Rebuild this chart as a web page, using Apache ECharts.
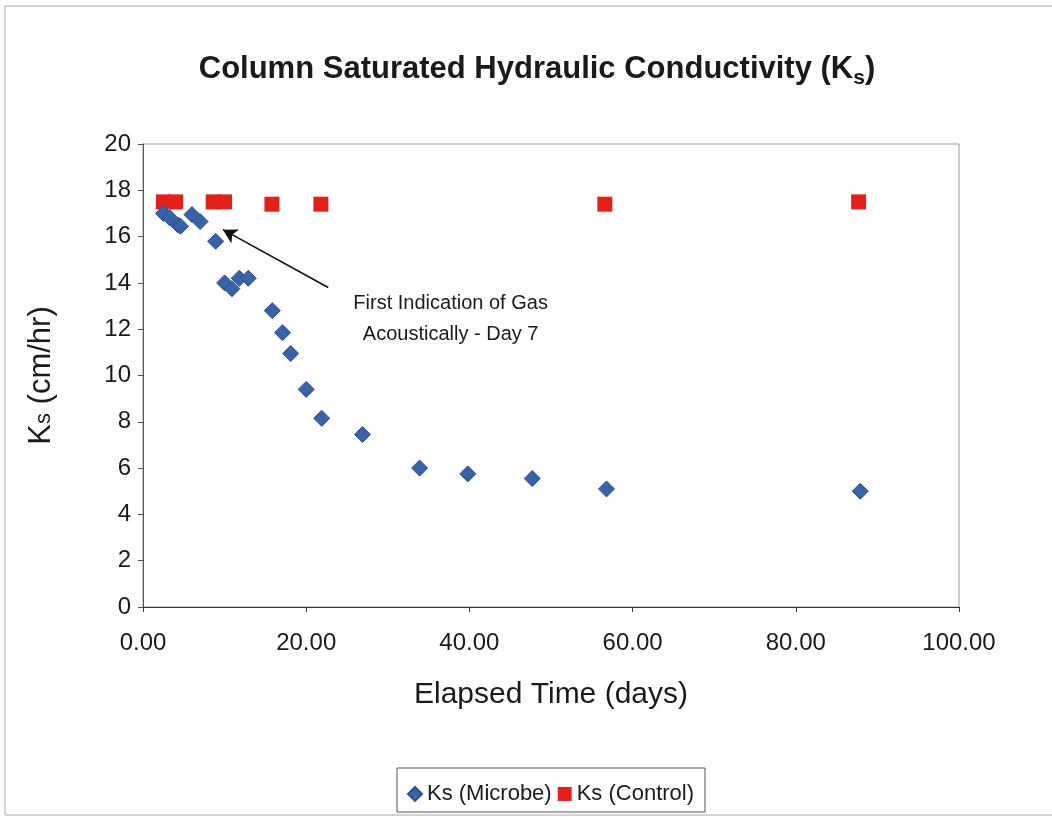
<html>
<head>
<title>Column Saturated Hydraulic Conductivity</title>
<script src="https://cdn.jsdelivr.net/npm/echarts@6/dist/echarts.min.js"></script>
<style>
body { margin:0; background:#fff; }
#main { width:1052px; height:817px; }
</style>
</head>
<body>
<div id="main"></div>
<script type="text/javascript">

// elapsed time (days) and Ks (cm/hr)
var microbeDays = [2.5, 3.3, 4.3, 4.6, 6.0, 7.0, 8.9, 10.0, 10.9, 11.8, 12.9, 15.85, 17.1, 18.1, 20.0, 21.9, 26.9, 33.9, 39.8, 47.7, 56.8, 87.9];
var microbeKs   = [17.0, 16.8, 16.5, 16.45, 16.95, 16.65, 15.8, 14.0, 13.75, 14.2, 14.2, 12.8, 11.85, 10.95, 9.4, 8.15, 7.45, 6.0, 5.75, 5.55, 5.1, 5.0];
var controlDays = [2.5, 4.0, 8.6, 10.0, 15.8, 21.8, 56.6, 87.7];
var controlKs   = [17.5, 17.5, 17.5, 17.5, 17.4, 17.4, 17.4, 17.5];

// annotation arrow, tail -> head, in data units
var arrowFrom = [22.7, 13.8];
var arrowTo = [9.8, 16.3];
var noteAt = [37.7, 13.8];

function pairs(xs, ys) {
    var out = [];
    for (var i = 0; i < xs.length; i++) out.push([xs[i], ys[i]]);
    return out;
}

var font = 'Liberation Sans, Arial, sans-serif';
var myChart = echarts.init(document.getElementById('main'));

var option = {
    animation: false,
    backgroundColor: '#fff',
    title: {
        text: 'Column Saturated Hydraulic Conductivity (K{sub|s})',
        left: 532, textAlign: 'center', top: 38,
        textStyle: {
            fontFamily: font, fontSize: 31, fontWeight: 'bold', color: '#1a1a1a',
            rich: { sub: { fontFamily: font, fontSize: 21, fontWeight: 'bold', color: '#1a1a1a', padding: [16, 0, 0, 0] } }
        }
    },
    grid: { left: 143, right: 93, top: 144, bottom: 210, show: true, borderColor: '#999', borderWidth: 1 },
    xAxis: {
        type: 'value', min: 0, max: 100, interval: 20,
        name: 'Elapsed Time (days)', nameLocation: 'middle', nameGap: 58,
        nameTextStyle: { fontFamily: font, fontSize: 30, color: '#1a1a1a' },
        axisLine: { lineStyle: { color: '#333', width: 1 } },
        axisTick: { show: true, length: 5, lineStyle: { color: '#333' } },
        axisLabel: { fontFamily: font, fontSize: 24, color: '#1a1a1a', margin: 16,
            formatter: function (v) { return v.toFixed(2); } },
        splitLine: { show: false }
    },
    yAxis: {
        type: 'value', min: 0, max: 20, interval: 2,
        name: 'K{s|s} (cm/hr)', nameLocation: 'middle', nameGap: 75, nameRotate: 90,
        nameTextStyle: { fontFamily: font, fontSize: 31, color: '#1a1a1a',
            rich: { s: { fontFamily: font, fontSize: 22, color: '#1a1a1a', padding: [0, 0, -5, 0] } } },
        axisLine: { show: true, lineStyle: { color: '#555', width: 1 } },
        axisTick: { show: true, length: 5, lineStyle: { color: '#555' } },
        axisLabel: { fontFamily: font, fontSize: 24, color: '#1a1a1a', margin: 12 },
        splitLine: { show: false }
    },
    legend: {
        left: 407, top: 775, itemGap: 6, itemWidth: 14, itemHeight: 14,
        borderWidth: 0, padding: 0,
        textStyle: { fontFamily: font, fontSize: 22, lineHeight: 26, color: '#1a1a1a' },
        data: [
            { name: 'Ks (Microbe)', icon: 'diamond' },
            { name: 'Ks (Control)', icon: 'rect' }
        ]
    },
    series: [
        {
            name: 'Ks (Microbe)', type: 'scatter', symbol: 'diamond', symbolSize: 16, z: 3,
            itemStyle: { color: '#3a62a6', borderColor: '#2b5190', borderWidth: 1, opacity: 1 },
            data: pairs(microbeDays, microbeKs),
            markLine: {
                silent: true, symbol: ['none', 'arrow'], symbolSize: [12, 14],
                lineStyle: { color: '#111', width: 1.6, type: 'solid' },
                label: { show: false },
                data: [[{ coord: arrowFrom }, { coord: arrowTo }]]
            }
        },
        {
            name: 'Ks (Control)', type: 'scatter', symbol: 'rect', symbolSize: 15, z: 2,
            itemStyle: { color: '#e4201a', opacity: 1 },
            data: pairs(controlDays, controlKs)
        }
    ]
};
myChart.setOption(option);

var p = myChart.convertToPixel({ gridIndex: 0 }, noteAt);
myChart.setOption({
    graphic: [
        { type: 'rect', shape: { x: 5, y: 6, width: 1060, height: 809 },
          style: { fill: 'none', stroke: '#aaa', lineWidth: 1 }, silent: true },
        // legend frame
        { type: 'rect', shape: { x: 397, y: 768, width: 308, height: 44 },
          style: { fill: 'none', stroke: '#555', lineWidth: 1 }, silent: true },
        { type: 'text', x: p[0], y: p[1],
          style: { text: 'First Indication of Gas\nAcoustically - Day 7', font: '20px ' + font,
                   fill: '#1a1a1a', align: 'center', verticalAlign: 'top', lineHeight: 31 } }
    ]
});

</script>
</body>
</html>
